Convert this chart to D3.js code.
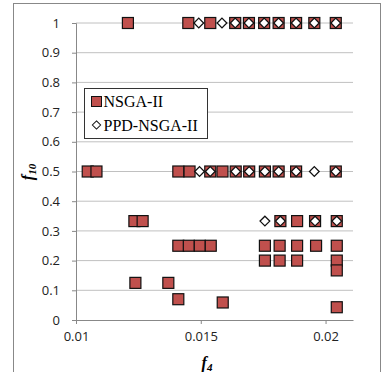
<html>
<head>
<meta charset="utf-8">
<script src="https://d3js.org/d3.v7.min.js"></script>
<style>
  body, html { margin: 0; padding: 0; background: #fff; }
  .tick text { font-family: "Open Sans", "Liberation Sans", sans-serif; font-size: 13px; fill: #222; }
</style>
</head>
<body>
<div id="my_dataviz"></div>
<script>
// NSGA-II points (f4, f10)
var nsgaF4 = [0.01208, 0.0145, 0.01538, 0.01638, 0.01693, 0.01754, 0.01812, 0.01882, 0.01955, 0.02041,
  0.01047, 0.01082, 0.0141, 0.01455, 0.01538, 0.01587, 0.0164, 0.01694, 0.01757, 0.01812, 0.01882, 0.02041,
  0.01234, 0.01267, 0.01819, 0.01886, 0.01958, 0.02045,
  0.0141, 0.01452, 0.01496, 0.0154, 0.01757, 0.01816, 0.01886, 0.01962, 0.02045,
  0.01757, 0.01816, 0.01886, 0.02045,
  0.02045,
  0.01238, 0.0137,
  0.0141, 0.01588, 0.02045];
var nsgaF10 = [1, 1, 1, 1, 1, 1, 1, 1, 1, 1,
  0.5, 0.5, 0.5, 0.5, 0.5, 0.5, 0.5, 0.5, 0.5, 0.5, 0.5, 0.5,
  0.333, 0.333, 0.333, 0.333, 0.333, 0.333,
  0.25, 0.25, 0.25, 0.25, 0.25, 0.25, 0.25, 0.25, 0.25,
  0.2, 0.2, 0.2, 0.2,
  0.167,
  0.125, 0.125,
  0.07, 0.059, 0.043];

// PPD-NSGA-II points (f4, f10)
var ppdF4 = [0.01492, 0.01585, 0.01638, 0.01693, 0.01754, 0.01812, 0.01882, 0.01955, 0.02041,
  0.01495, 0.01538, 0.0164, 0.01694, 0.01757, 0.01812, 0.01882, 0.01955, 0.02041,
  0.01757, 0.01819, 0.01958, 0.02045];
var ppdF10 = [1, 1, 1, 1, 1, 1, 1, 1, 1,
  0.5, 0.5, 0.5, 0.5, 0.5, 0.5, 0.5, 0.5, 0.5,
  0.333, 0.333, 0.333, 0.333];

var xTicks = [0.01, 0.015, 0.02];
var yTicks = [0, 0.1, 0.2, 0.3, 0.4, 0.5, 0.6, 0.7, 0.8, 0.9, 1];

var w = 382, h = 372;
var margin = { top: 23, bottom: 52, left: 76, right: 29 };
var width = w - margin.left - margin.right;
var height = h - margin.top - margin.bottom;

var root = d3.select("#my_dataviz")
  .append("svg")
    .attr("width", w)
    .attr("height", h);

// outer frame
root.append("rect")
  .attr("x", 13.5).attr("y", 3.5)
  .attr("width", 367).attr("height", 380)
  .attr("fill", "none").attr("stroke", "#888");

var svg = root.append("g")
  .attr("transform", "translate(" + margin.left + "," + margin.top + ")");

var x = d3.scaleLinear().domain([0.01, 0.0211]).range([0, width]);
var y = d3.scaleLinear().domain([0, 1]).range([height, 0]);

// gridlines
svg.append("g")
  .selectAll("line")
  .data(yTicks.filter(function(d) { return d > 0; }))
  .enter().append("line")
    .attr("x1", 0).attr("x2", width)
    .attr("y1", function(d) { return y(d); })
    .attr("y2", function(d) { return y(d); })
    .attr("stroke", "#c0c0c0");

// axes
var yAxis = svg.append("g")
  .call(d3.axisLeft(y).tickValues(yTicks).tickSize(4).tickPadding(12)
    .tickFormat(function(d) { return d3.format("")(d); }));
yAxis.select(".domain").attr("stroke", "#888");
yAxis.selectAll(".tick line").attr("stroke", "#888");

var xAxis = svg.append("g")
  .attr("transform", "translate(0," + height + ")")
  .call(d3.axisBottom(x).tickValues(xTicks).tickSize(4).tickSizeOuter(0).tickPadding(8)
    .tickFormat(function(d) { return d3.format("")(+d.toFixed(3)); }));
xAxis.select(".domain").attr("stroke", "#888");
xAxis.selectAll(".tick line").attr("stroke", "#888");

// NSGA-II squares
var s = 11;
svg.append("g")
  .selectAll("rect")
  .data(nsgaF4)
  .enter().append("rect")
    .attr("x", function(d) { return x(d) - s / 2; })
    .attr("y", function(d, i) { return y(nsgaF10[i]) - s / 2; })
    .attr("width", s).attr("height", s)
    .attr("fill", "#C0504D")
    .attr("stroke", "#111")
    .attr("stroke-width", 1.2);

// PPD-NSGA-II diamonds
var diamond = d3.symbol().type(d3.symbolDiamond2).size(60);
svg.append("g")
  .selectAll("path")
  .data(ppdF4)
  .enter().append("path")
    .attr("d", diamond)
    .attr("transform", function(d, i) { return "translate(" + x(d) + "," + y(ppdF10[i]) + ")"; })
    .attr("fill", "#fff")
    .attr("stroke", "#111")
    .attr("stroke-width", 1.3);

// legend
var lg = root.append("g").attr("transform", "translate(84.5,88.5)");
lg.append("rect").attr("width", 123).attr("height", 50)
  .attr("fill", "#fff").attr("stroke", "#333");
lg.append("rect").attr("x", 7).attr("y", 8).attr("width", 10).attr("height", 10)
  .attr("fill", "#C0504D").attr("stroke", "#111");
lg.append("text").attr("x", 19).attr("y", 18.5)
  .attr("font-family", "Liberation Serif, serif").attr("font-size", 16)
  .text("NSGA-II");
lg.append("path").attr("d", diamond)
  .attr("transform", "translate(12,36.5) scale(0.85)")
  .attr("fill", "#fff").attr("stroke", "#111").attr("stroke-width", 1.2);
lg.append("text").attr("x", 19).attr("y", 42.5)
  .attr("font-family", "Liberation Serif, serif").attr("font-size", 16)
  .text("PPD-NSGA-II");

// axis labels
var xl = root.append("text")
  .attr("x", 207).attr("y", 368)
  .attr("text-anchor", "middle")
  .attr("font-family", "Liberation Serif, serif")
  .attr("font-size", 16).attr("font-style", "italic").attr("font-weight", "bold");
xl.append("tspan").text("f");
xl.append("tspan").attr("dy", 3).attr("font-size", 11).text("4");

var yl = root.append("text")
  .attr("transform", "translate(33,172) rotate(-90)")
  .attr("text-anchor", "middle")
  .attr("font-family", "Liberation Serif, serif")
  .attr("font-size", 16).attr("font-style", "italic").attr("font-weight", "bold");
yl.append("tspan").text("f");
yl.append("tspan").attr("dy", 3).attr("font-size", 11).text("10");
</script>
</body>
</html>
